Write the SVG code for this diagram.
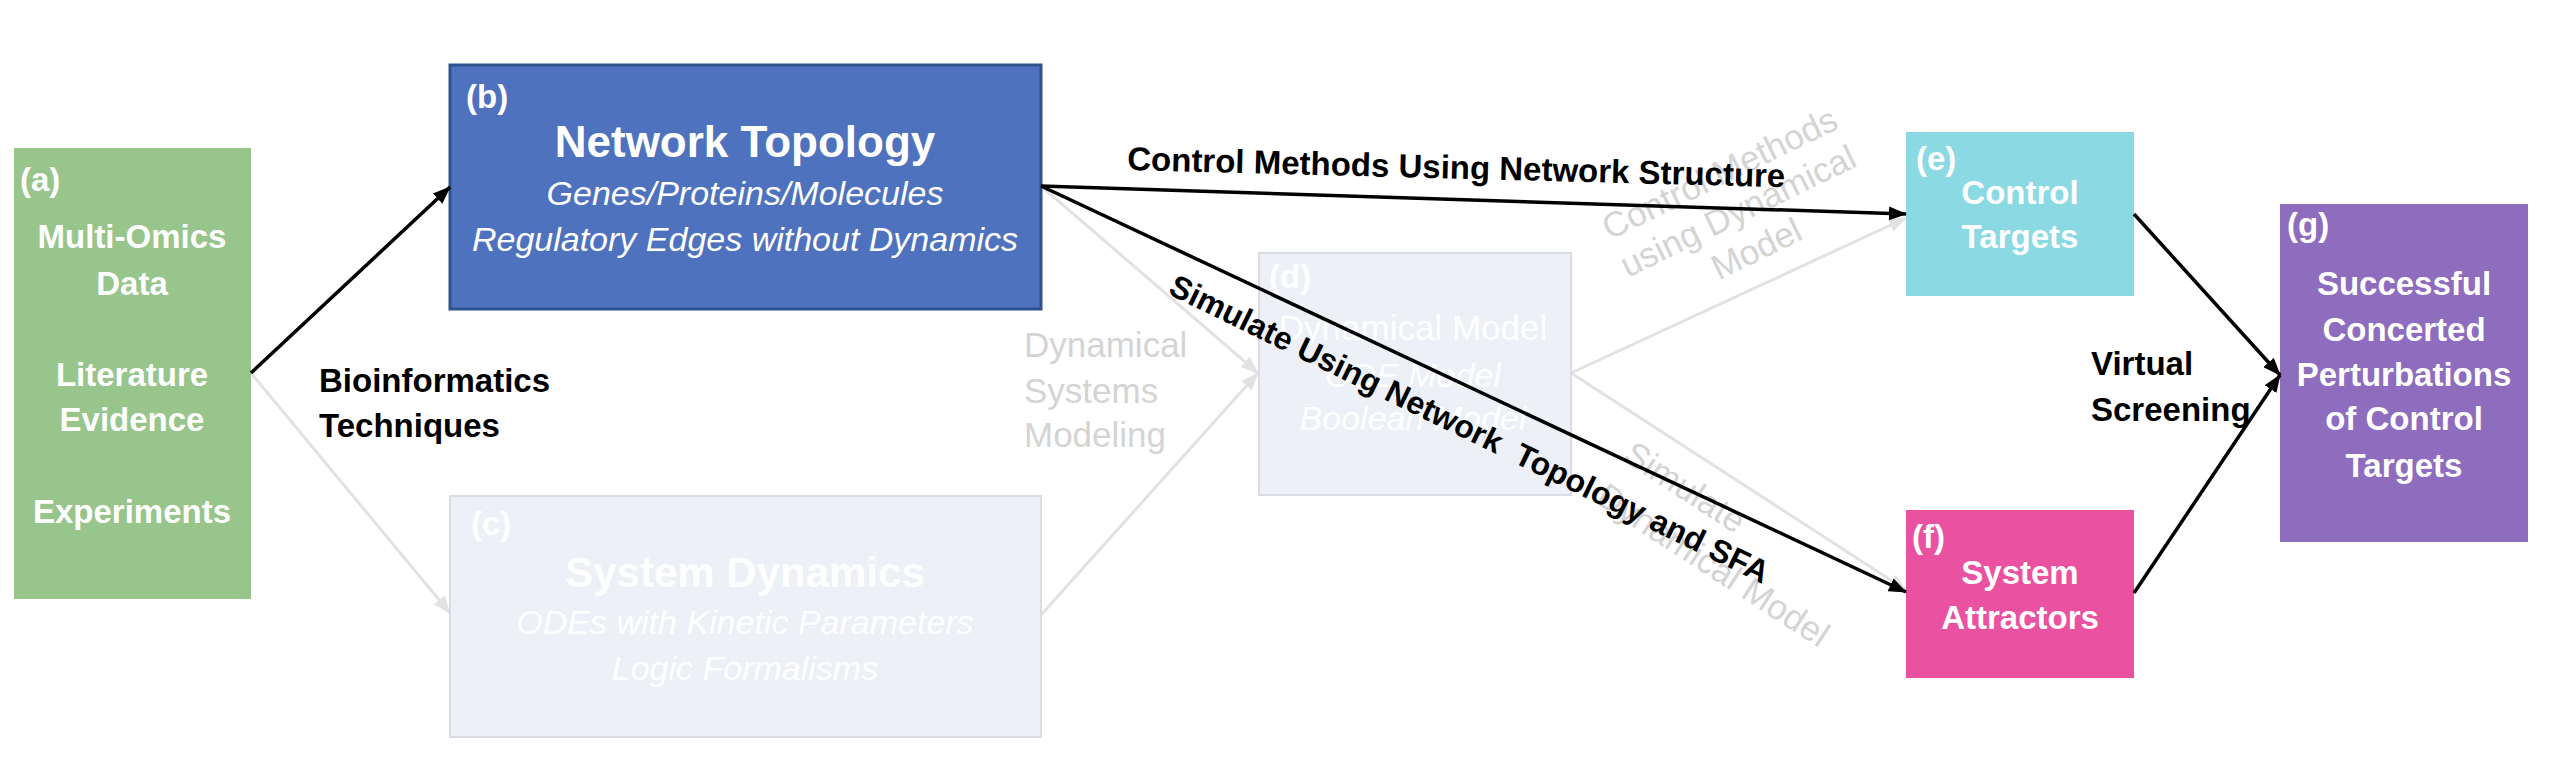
<svg xmlns="http://www.w3.org/2000/svg" width="2550" height="782" viewBox="0 0 2550 782">
<defs>
<style>
text{font-family:"Liberation Sans",Arial,sans-serif;}
.w{fill:#ffffff;font-weight:bold;font-size:33px;}
.c{text-anchor:middle;}
.it{font-style:italic;font-weight:normal;font-size:34px;}
.lbl{fill:#000000;font-weight:bold;font-size:33px;}
.gt{fill:#D4D4D4;font-size:35px;}
.blk{stroke:#000000;stroke-width:3.5;fill:none;marker-end:url(#ah);}
.gry{stroke:#E2E2E2;stroke-width:3;fill:none;marker-end:url(#ahg);}
.faint{fill:#EDF0F7;stroke:#D9DCE2;stroke-width:2;}
</style>
<marker id="ah" markerUnits="userSpaceOnUse" markerWidth="18" markerHeight="14" refX="17" refY="7" orient="auto"><path d="M0,0 L18,7 L0,14 z" fill="#000000"/></marker>
<marker id="ahg" markerUnits="userSpaceOnUse" markerWidth="18" markerHeight="14" refX="17" refY="7" orient="auto"><path d="M0,0 L18,7 L0,14 z" fill="#E2E2E2"/></marker>
</defs>
<rect width="2550" height="782" fill="#ffffff"/>

<g id="connectors-faint">
<path class="gry" d="M251,373 L450,613"/>
<path class="gry" d="M1041,186 L1258,373"/>
<path class="gry" d="M1041,615 L1258,373"/>
<path class="gry" d="M1571,373 L1906,218"/>
<path class="gry" d="M1571,373 L1906,590"/>
</g>

<g id="faint-labels">
<text class="gt" x="1024" y="357">Dynamical</text>
<text class="gt" x="1024" y="403">Systems</text>
<text class="gt" x="1024" y="447">Modeling</text>
<g transform="translate(1738,211) rotate(-26)">
<text class="gt c" x="0" y="-30">Control Methods</text>
<text class="gt c" x="0" y="12">using Dynamical</text>
<text class="gt c" x="0" y="54">Model</text>
</g>
<g transform="translate(1628,450) rotate(33)">
<text class="gt" x="0" y="12">Simulate</text>
<text class="gt" x="0" y="62">Dynamical Model</text>
</g>
</g>

<g id="node-a">
<rect x="14" y="148" width="237" height="451" fill="#97C58B"/>
<text class="w" x="20" y="191">(a)</text>
<text class="w c" x="132" y="248">Multi-Omics</text>
<text class="w c" x="132" y="295">Data</text>
<text class="w c" x="132" y="386">Literature</text>
<text class="w c" x="132" y="431">Evidence</text>
<text class="w c" x="132" y="523">Experiments</text>
</g>

<g id="node-b">
<rect x="450" y="65" width="591" height="244" fill="#4E72BE" stroke="#2F528F" stroke-width="3"/>
<text class="w" x="466" y="108">(b)</text>
<text class="w c" x="745" y="157" style="font-size:44px">Network Topology</text>
<text class="w c it" x="745" y="205">Genes/Proteins/Molecules</text>
<text class="w c it" x="745" y="251">Regulatory Edges without Dynamics</text>
</g>

<g id="node-c">
<rect class="faint" x="450" y="496" width="591" height="241"/>
<text class="w" x="471" y="535">(c)</text>
<text class="w c" x="745" y="587" style="font-size:42px">System Dynamics</text>
<text class="w c it" x="745" y="634">ODEs with Kinetic Parameters</text>
<text class="w c it" x="745" y="680">Logic Formalisms</text>
</g>

<g id="node-d">
<rect class="faint" x="1259" y="253" width="312" height="242"/>
<text class="w" x="1269" y="288">(d)</text>
<text class="w c" x="1413" y="340" style="font-weight:normal;font-size:35px">Dynamical Model</text>
<text class="w c it" x="1413" y="387">ODE Model</text>
<text class="w c it" x="1413" y="430">Boolean Model</text>
</g>

<g id="node-e">
<rect x="1906" y="132" width="228" height="164" fill="#8AD9E3"/>
<text class="w" x="1916" y="170">(e)</text>
<text class="w c" x="2020" y="204">Control</text>
<text class="w c" x="2020" y="248">Targets</text>
</g>

<g id="node-f">
<rect x="1906" y="510" width="228" height="168" fill="#EA51A0"/>
<text class="w" x="1912" y="548">(f)</text>
<text class="w c" x="2020" y="584">System</text>
<text class="w c" x="2020" y="629">Attractors</text>
</g>

<g id="node-g">
<rect x="2280" y="204" width="248" height="338" fill="#8E6CBE"/>
<text class="w" x="2287" y="236">(g)</text>
<text class="w c" x="2404" y="295">Successful</text>
<text class="w c" x="2404" y="341">Concerted</text>
<text class="w c" x="2404" y="386">Perturbations</text>
<text class="w c" x="2404" y="430">of Control</text>
<text class="w c" x="2404" y="477">Targets</text>
</g>

<g id="connectors">
<path class="blk" d="M251,373 L450,187"/>
<path class="blk" d="M1041,186 L1906,214"/>
<path class="blk" d="M1041,186 L1906,592"/>
<path class="blk" d="M2134,214 L2280,375"/>
<path class="blk" d="M2134,593 L2280,375"/>
</g>

<g id="connector-labels">
<text class="lbl" x="319" y="392">Bioinformatics</text>
<text class="lbl" x="319" y="437">Techniques</text>
<text class="lbl" x="2091" y="375">Virtual</text>
<text class="lbl" x="2091" y="421">Screening</text>
<text class="lbl" transform="translate(1127,170) rotate(1.5)">Control Methods Using Network Structure</text>
<g transform="translate(1470,428) rotate(26)">
<text class="lbl c" x="0" y="12" style="white-space:pre;font-size:32px">Simulate Using Network  Topology and SFA</text>
</g>
</g>
</svg>
